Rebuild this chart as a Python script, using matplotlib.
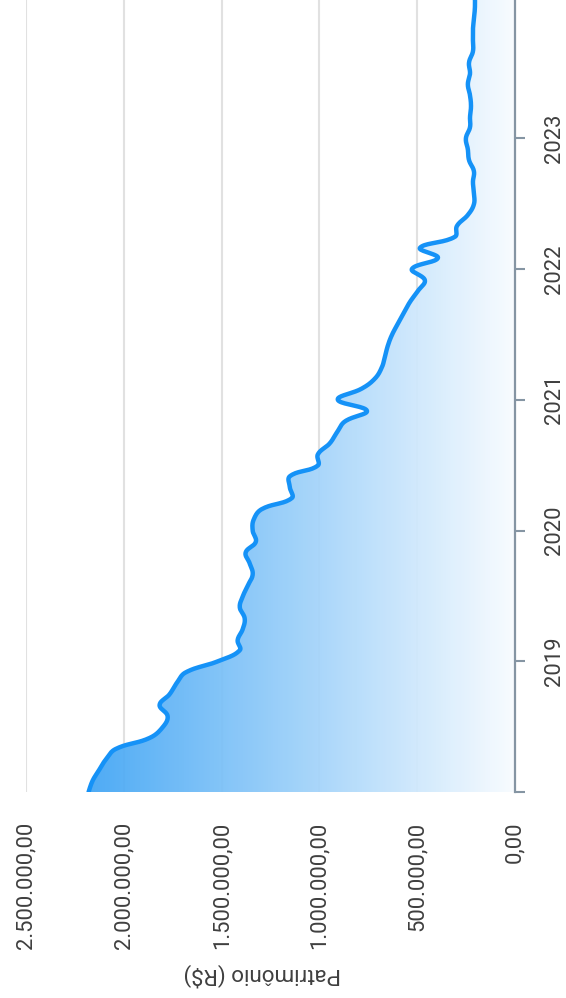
import numpy as np
import matplotlib
matplotlib.use("Agg")
import matplotlib.pyplot as plt
import matplotlib.dates as mdates
import pandas as pd
from matplotlib.patches import Polygon

plt.rcParams['font.family'] = ['Roboto', 'DejaVu Sans']

# ---- data -------------------------------------------------------------
start_month = "2018-01-01"
patrimonio = [
    2180000, 2160000, 2129000, 2093000, 2042000, 1868000, 1801000, 1776000,
    1817000, 1766000, 1730000, 1684000,                      # 2018
    1520000, 1407000, 1418000, 1392000, 1382000, 1407000, 1392000, 1366000,
    1341000, 1356000, 1377000, 1325000,                      # 2019
    1341000, 1336000, 1295000, 1141000, 1151000, 1151000, 1008000, 1008000,
    947000, 911000, 870000, 757000,                          # 2020
    906000, 783000, 716000, 681000, 665000, 650000, 629000, 599000,
    568000, 537000, 496000, 461000,                          # 2021
    527000, 394000, 486000, 307000, 297000, 241000, 210000, 210000,
    215000, 210000, 235000, 241000,                          # 2022
    251000, 230000, 230000, 225000, 230000, 241000, 230000, 235000,
    215000, 215000, 215000, 210000,                          # 2023
    205000, 205000,                                          # 2024
]
dates = pd.date_range(start_month, periods=len(patrimonio), freq="MS")

value_ticks = [0, 500000, 1000000, 1500000, 2000000, 2500000]
value_tick_labels = ["0,00", "500.000,00", "1.000.000,00", "1.500.000,00",
                     "2.000.000,00", "2.500.000,00"]
year_ticks = ["2018-01-01", "2019-01-01", "2020-01-01", "2021-01-01",
              "2022-01-01", "2023-01-01"]
year_tick_labels = ["", "2019", "2020", "2021", "2022", "2023"]
axis_title = "Patrimônio (R$)"

# ---- smoothing (Chart.js-like bezier, tension 0.4) --------------------
t = mdates.date2num(dates)
v = np.array(patrimonio, dtype=float)
tn = (t - t[0]) / 30.44 * 10.9
vn = v / 5118.0
P = np.column_stack([tn, vn])
n = len(P)
tension = 0.4
cp_prev = P.copy()
cp_next = P.copy()
for i in range(1, n - 1):
    d01 = np.hypot(*(P[i] - P[i - 1]))
    d12 = np.hypot(*(P[i + 1] - P[i]))
    s = d01 + d12
    fa = tension * d01 / s
    fb = tension * d12 / s
    cp_prev[i] = P[i] - fa * (P[i + 1] - P[i - 1])
    cp_next[i] = P[i] + fb * (P[i + 1] - P[i - 1])
curve = []
u = np.linspace(0, 1, 20)[:, None]
for i in range(n - 1):
    p0, p1, p2, p3 = P[i], cp_next[i], cp_prev[i + 1], P[i + 1]
    seg = ((1 - u) ** 3) * p0 + 3 * ((1 - u) ** 2) * u * p1 + 3 * (1 - u) * u ** 2 * p2 + u ** 3 * p3
    curve.append(seg if i == 0 else seg[1:])
curve = np.vstack(curve)
ct = curve[:, 0] / 10.9 * 30.44 + t[0]
cv = curve[:, 1] * 5118.0

# ---- figure -----------------------------------------------------------
W, H = 566, 998
fig = plt.figure(figsize=(W / 100, H / 100), dpi=100)
ax = fig.add_axes([26 / W, (H - 792) / H, (515 - 26) / W, 792 / H])

y0 = mdates.date2num(pd.Timestamp("2018-01-01"))
y1 = y0 + 792 / 130.75 * 365.25
xmax = 2500000

# gradient fill (pre-blended with white, nearly opaque)
ncol = 256
a = np.linspace(0.03, 0.97, ncol)
base = np.array([33, 150, 243]) / 255.0
rgba = np.ones((1, ncol, 4))
rgba[0, :, :3] = 1 - a[:, None] * (1 - base)
rgba[0, :, 3] = 0.94
im = ax.imshow(rgba, extent=(0, xmax, y0, y1), aspect="auto",
               origin="lower", interpolation="bilinear", zorder=1)
poly_xy = np.vstack([np.column_stack([cv, ct]),
                     [[0, ct[-1]], [0, ct[0]]]])
poly = Polygon(poly_xy, closed=True, facecolor="none", edgecolor="none",
               transform=ax.transData)
ax.add_patch(poly)
im.set_clip_path(poly)

ax.plot(cv, ct, color="#1592f7", lw=3.2, zorder=3, solid_joinstyle="round",
        solid_capstyle="round")

ax.set_xlim(xmax, 0)
ax.set_ylim(y0, y1)

# grid
for vt in value_ticks[1:]:
    ax.axvline(vt, color="#e1e1e1", lw=1.5, zorder=0)

ax.set_xticks(value_ticks)
ax.set_xticklabels(value_tick_labels, rotation=90, fontsize=15.8,
                   color="#3f3f3f")
ax.tick_params(axis="x", length=0, pad=21.5)

ax.yaxis.tick_right()
ax.set_yticks(mdates.date2num(pd.to_datetime(year_ticks)))
ax.set_yticklabels(year_tick_labels, rotation=90, va="center",
                   fontsize=15.8, color="#3f3f3f")
ax.tick_params(axis="y", length=7.5, width=1.5, color="#8595a3", pad=13.5)

for s in ["top", "left", "bottom"]:
    ax.spines[s].set_visible(False)
ax.spines["right"].set_color("#8595a3")
ax.spines["right"].set_linewidth(1.6)
ax.set_facecolor("white")

fig.text(262 / W, 1 - 975 / H, axis_title, rotation=180, ha="center",
         va="center", fontsize=16.2, color="#3f3f3f")

fig.savefig("out.png", dpi=100)
